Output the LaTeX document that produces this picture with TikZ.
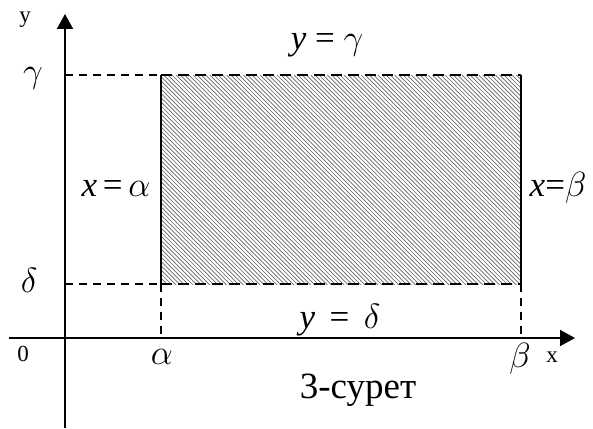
\RequirePackage{fix-cm}
\documentclass[tikz,border=0pt]{standalone}
\usepackage{fontspec}
\setmainfont{Liberation Serif}
\usetikzlibrary{arrows.meta}
\tikzset{
  axis/.style={line width=1.8pt,-{Triangle[length=15pt,width=16pt]}},
  edge/.style={line width=2.6pt},
  dashedge/.style={line width=2.6pt,dash pattern=on 11pt off 6pt},
  helper/.style={line width=1.4pt,dash pattern=on 8pt off 6pt},
  hatch/.style={line width=0.65pt,black!60},
  biglabel/.style={font=\fontsize{35}{40}\selectfont,inner sep=0pt},
  smalllabel/.style={font=\fontsize{23}{26}\selectfont,inner sep=0pt}
}
\begin{document}
\begin{tikzpicture}[x=1pt,y=-1pt]
  \useasboundingbox (0,0) rectangle (593,428);

  % corners of the region
  \coordinate (O) at (65,338);
  \coordinate (A) at (161,284);
  \coordinate (B) at (521,284);
  \coordinate (C) at (521,75);
  \coordinate (D) at (161,75);
  \coordinate (Ax) at (161,338);
  \coordinate (Bx) at (521,338);
  \coordinate (Gy) at (65,75);
  \coordinate (Dy) at (65,284);
  \coordinate (xstart) at (9,338);
  \coordinate (xend) at (575,338);
  \coordinate (ybot) at (65,428);
  \coordinate (ytop) at (65,14);

  % hatching
  \begin{scope}
    \clip (A) rectangle (C);
    \foreach \s in {-220,-215.8,...,380}
      \draw[hatch] (161+\s,75) -- ++(230,230);
  \end{scope}

  % helper lines
  \draw[helper] (Gy) -- (D);
  \draw[helper] (Dy) -- (A);
  \draw[helper] (A) -- (Ax);
  \draw[helper] (B) -- (Bx);

  % boundary
  \draw[edge] (A) -- (D);
  \draw[edge] (B) -- (C);
  \draw[dashedge] (D) -- (C);
  \draw[dashedge] (A) -- (B);

  % axes
  \draw[axis] (xstart) -- (xend);
  \draw[axis] (ybot) -- (ytop);

  % labels
  \node[smalllabel] (ylab) at (25,20) {y};
  \node[smalllabel] (xlab) at (552,357) {x};
  \node[smalllabel] (zero) at (23,354) {0};
  \node[biglabel] (gam) at (33,78) {$\gamma$};
  \node[biglabel] (del) at (29,280) {$\delta$};
  \node[biglabel] (alp) at (162,357) {$\alpha$};
  \node[biglabel] (bet) at (520,359) {$\beta$};
  \node[biglabel] (top) at (327,45) {\textit{y} = $\gamma$};
  \node[biglabel] (bot) at (340,320) {\textit{y} \,=\, $\delta$};
  \node[biglabel] (left) at (116,188) {\textit{x}\,=\,$\alpha$};
  \node[biglabel] (right) at (558,188) {\textit{x}=$\beta$};
  \node[font=\fontsize{37}{42}\selectfont,inner sep=0pt] (cap) at (358,390) {3-сурет};
\end{tikzpicture}
\end{document}
